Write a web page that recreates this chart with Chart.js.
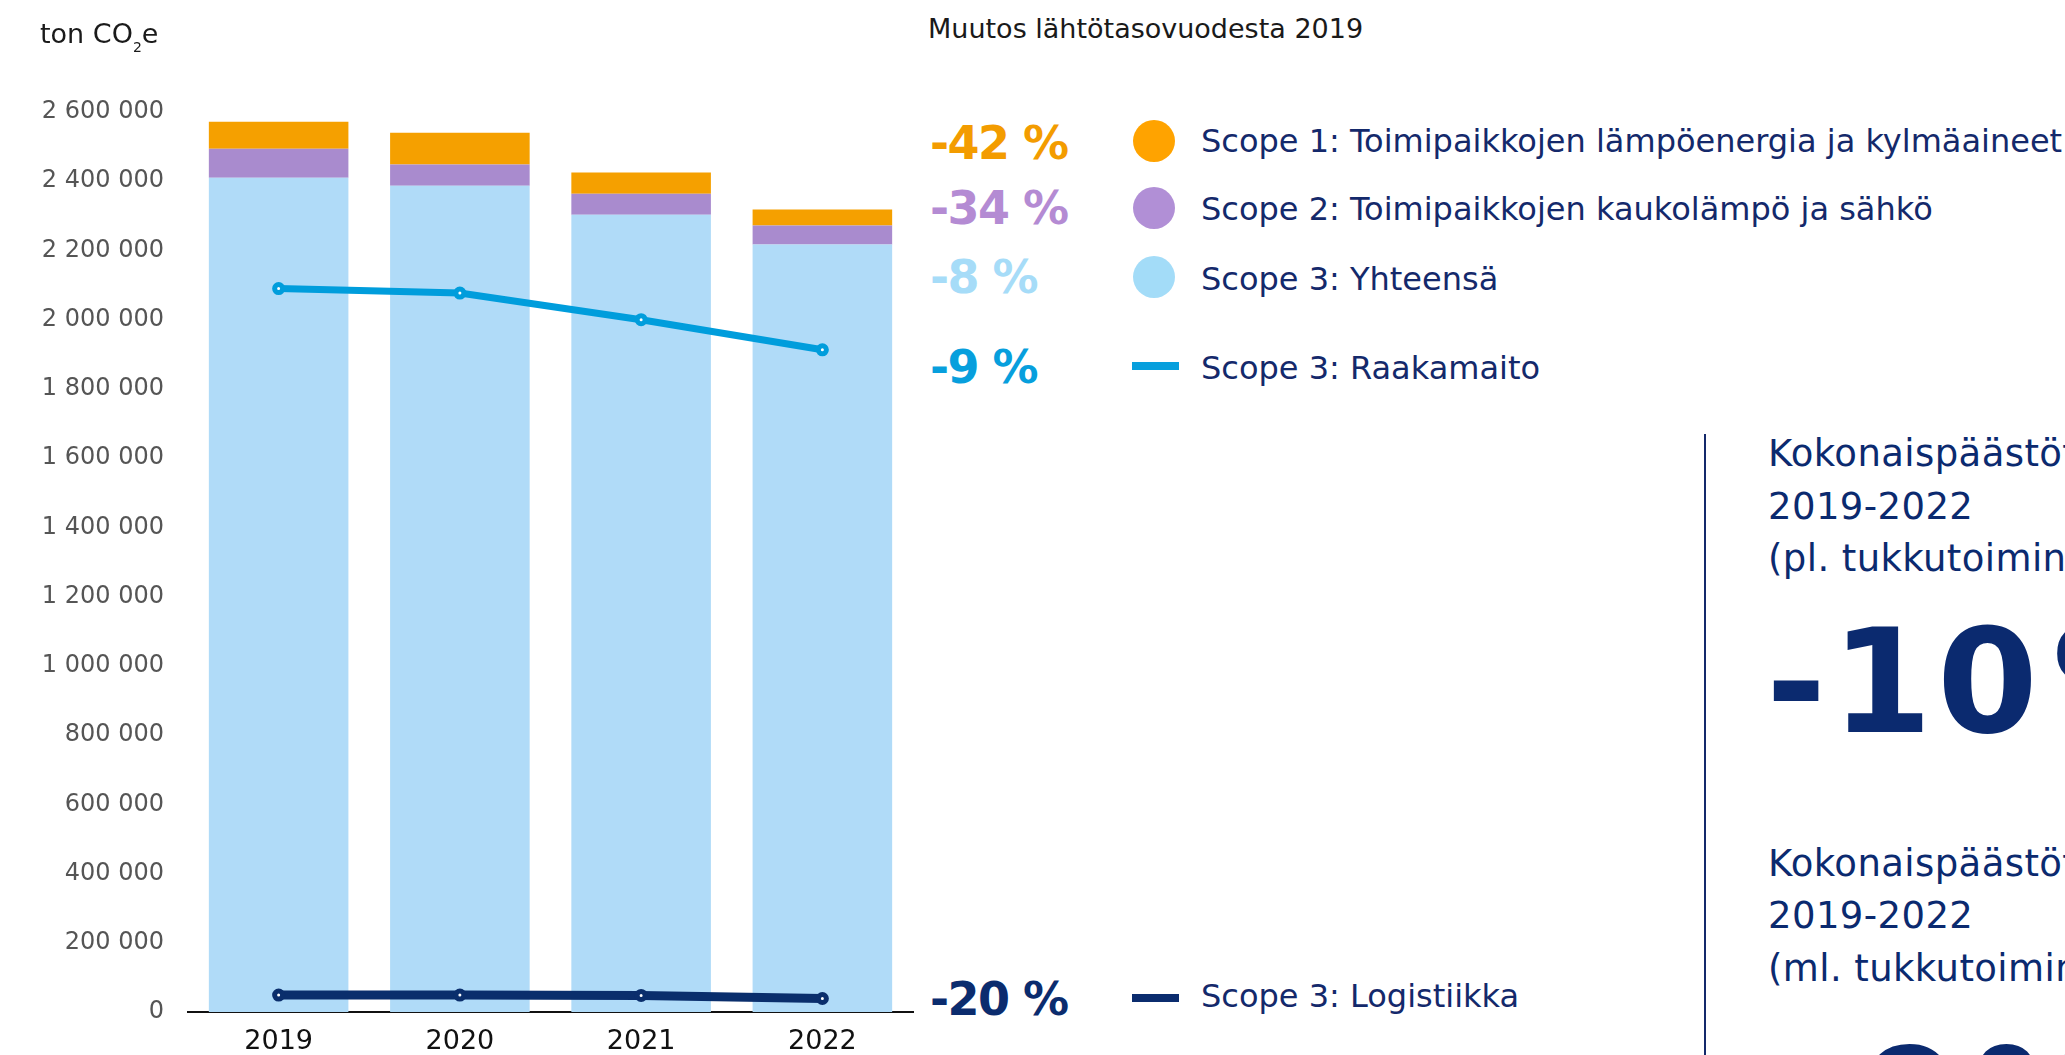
<!DOCTYPE html>
<html lang="fi">
<head>
<meta charset="utf-8">
<title>Päästöt 2019–2022</title>
<script src="https://cdn.jsdelivr.net/npm/chart.js@4.4.1/dist/chart.umd.min.js"></script>
<style>
  html, body { margin: 0; padding: 0; background: #fff; }
  body { width: 2065px; height: 1055px; overflow: hidden; position: relative; font-family: "DejaVu Sans", sans-serif; }
  #chartWrap { position: absolute; left: 0; top: 0; width: 925px; height: 1055px; }
  .txt { position: absolute; white-space: nowrap; line-height: 1; }
  .unit { left: 40px; top: 20px; font-size: 27px; color: #1a1a1a; }
  .unit sub { font-size: 14px; vertical-align: -9px; line-height: 0; }
  .caption { left: 928px; top: 15px; font-size: 27px; color: #1a1a1a; }
  .pct { left: 930px; font-size: 46px; font-weight: bold; letter-spacing: -1.5px; }
  .lbl { left: 1201px; font-size: 32px; color: #14296b; }
  .dot { position: absolute; left: 1133px; width: 42px; height: 42px; border-radius: 50%; }
  .dash { position: absolute; left: 1132px; width: 47px; height: 8px; }
  .divider { position: absolute; left: 1704px; top: 434px; width: 2px; height: 621px; background: #14296b; }
  .total { left: 1768px; font-size: 37px; color: #0b2a6f; letter-spacing: 0.4px; }
  .big { left: 1766px; font-size: 145px; font-weight: bold; color: #0b2a6f; letter-spacing: 5px; }
</style>
</head>
<body>
<div id="chartWrap"><canvas id="emissionChart" width="925" height="1055"></canvas></div>

<div class="txt unit">ton CO<sub>2</sub>e</div>
<div class="txt caption">Muutos lähtötasovuodesta 2019</div>

<div class="txt pct" style="top:120px;color:#f39c00">-42 %</div>
<div class="txt pct" style="top:185px;color:#b48bd3">-34 %</div>
<div class="txt pct" style="top:254px;color:#a6dcf8">-8 %</div>
<div class="txt pct" style="top:344px;color:#079fdd">-9 %</div>
<div class="txt pct" style="top:976px;color:#0b2c6e">-20 %</div>

<div class="dot" style="top:120px;background:#ffa300"></div>
<div class="dot" style="top:187px;background:#b18fd6"></div>
<div class="dot" style="top:256px;background:#a3dcf8"></div>
<div class="dash" style="top:362px;background:#079fdd"></div>
<div class="dash" style="top:994px;background:#0b2c6e"></div>

<div class="txt lbl" style="top:125px">Scope 1: Toimipaikkojen lämpöenergia ja kylmäaineet</div>
<div class="txt lbl" style="top:193px">Scope 2: Toimipaikkojen kaukolämpö ja sähkö</div>
<div class="txt lbl" style="top:263px">Scope 3: Yhteensä</div>
<div class="txt lbl" style="top:352px">Scope 3: Raakamaito</div>
<div class="txt lbl" style="top:980px">Scope 3: Logistiikka</div>

<div class="divider"></div>
<div class="txt total" style="top:435px">Kokonaispäästöt</div>
<div class="txt total" style="top:488px">2019-2022</div>
<div class="txt total" style="top:540px">(pl. tukkutoiminta)</div>
<div class="txt big" style="top:609px;word-spacing:-46px">-10 %</div>
<div class="txt total" style="top:845px">Kokonaispäästöt</div>
<div class="txt total" style="top:897px">2019-2022</div>
<div class="txt total" style="top:950px">(ml. tukkutoiminta)</div>
<div class="txt big" style="top:1028px;left:1796px;word-spacing:-49px">-9 %</div>

<script>
// values, ton CO2e
var years = ['2019', '2020', '2021', '2022'];
var scope3Total = [2410000, 2387000, 2303000, 2217000];
var scope2 = [84000, 61000, 61000, 55000];
var scope1 = [78000, 92000, 61000, 46000];
var rawMilk = [2090000, 2077000, 2000000, 1913000];
var logistics = [49000, 49000, 48000, 39000];
var yTicks = [0, 200000, 400000, 600000, 800000, 1000000, 1200000, 1400000,
              1600000, 1800000, 2000000, 2200000, 2400000, 2600000];

var EmissionChart = (function(window) {
    var Controller = function() {
        this.init();
        this.render();
    };

    Controller.prototype.init = function() {
        this.colors = {
            scope1: '#f5a000',
            scope2: '#a98bce',
            scope3: '#b0dbf8',
            rawMilk: '#009ddc',
            logistics: '#0a2e6c'
        };
    };

    Controller.prototype.formatTick = function(value) {
        return String(value).replace(/\B(?=(\d{3})+(?!\d))/g, ' ');
    };

    Controller.prototype.lineSet = function(label, data, color, width, stack) {
        return {
            type: 'line',
            label: label,
            data: data,
            stack: stack,
            order: 1,
            borderColor: color,
            borderWidth: width,
            backgroundColor: '#ffffff',
            pointBackgroundColor: '#ffffff',
            pointBorderColor: color,
            pointRadius: 4,
            pointBorderWidth: 5,
            tension: 0,
            fill: false
        };
    };

    Controller.prototype.render = function() {
        var c = this.colors;
        var self = this;
        var ctx = document.getElementById('emissionChart').getContext('2d');

        var config = {
            type: 'bar',
            data: {
                labels: years,
                datasets: [
                    { label: 'Scope 3: Yhteensä', data: scope3Total, backgroundColor: c.scope3, stack: 'bars', order: 2 },
                    { label: 'Scope 2', data: scope2, backgroundColor: c.scope2, stack: 'bars', order: 2 },
                    { label: 'Scope 1', data: scope1, backgroundColor: c.scope1, stack: 'bars', order: 2 },
                    this.lineSet('Scope 3: Raakamaito', rawMilk, c.rawMilk, 7, 'milk'),
                    this.lineSet('Scope 3: Logistiikka', logistics, c.logistics, 9, 'logistics')
                ]
            },
            options: {
                responsive: false,
                animation: false,
                layout: { autoPadding: false, padding: { top: 112, right: 12, bottom: 0, left: 0 } },
                datasets: { bar: { categoryPercentage: 1, barPercentage: 0.77 } },
                plugins: { legend: { display: false }, tooltip: { enabled: false } },
                scales: {
                    x: {
                        stacked: true,
                        grid: { display: false },
                        border: { display: true, color: '#111111', width: 2 },
                        ticks: { color: '#111111', padding: 6, font: { family: 'DejaVu Sans', size: 27 } },
                        afterFit: function(scale) { scale.height = 43; }
                    },
                    y: {
                        stacked: true,
                        min: 0,
                        max: 2600000,
                        grid: { display: false },
                        border: { display: false },
                        afterBuildTicks: function(scale) {
                            scale.ticks = yTicks.map(function(v) { return { value: v }; });
                        },
                        ticks: {
                            color: '#555555',
                            padding: 16,
                            font: { family: 'DejaVu Sans', size: 24 },
                            callback: function(value) { return self.formatTick(value); }
                        },
                        afterFit: function(scale) { scale.width = 188; }
                    }
                }
            }
        };

        new Chart(ctx, config);
    };

    return Controller;
})(window);

new EmissionChart();
</script>
</body>
</html>
